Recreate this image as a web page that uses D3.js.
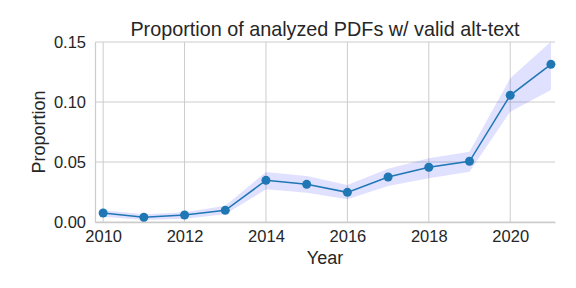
<!DOCTYPE html>
<html>
<head>
<meta charset="utf-8">
<script src="https://cdn.jsdelivr.net/npm/d3@7"></script>
<style>
  body { margin: 0; background: #fff; }
  text { font-family: "Liberation Sans", Arial, sans-serif; fill: #262626; }
</style>
</head>
<body>
<div id="chart"></div>
<script>
var years = [2010, 2011, 2012, 2013, 2014, 2015, 2016, 2017, 2018, 2019, 2020, 2021];
var proportion = [0.0075, 0.0040, 0.0058, 0.0097, 0.0347, 0.0314, 0.0247, 0.0375, 0.0456, 0.0506, 0.1056, 0.1314];
var ciLow = [0.0044, 0.0017, 0.0028, 0.0064, 0.0272, 0.0244, 0.0189, 0.0300, 0.0364, 0.0419, 0.0919, 0.1100];
var ciHigh = [0.0097, 0.0064, 0.0081, 0.0136, 0.0417, 0.0383, 0.0308, 0.0444, 0.0531, 0.0586, 0.1197, 0.1503];
var xTicks = [2010, 2012, 2014, 2016, 2018, 2020];
var yTicks = [0.00, 0.05, 0.10, 0.15];
var title = "Proportion of analyzed PDFs w/ valid alt-text";

var svg_width = 576;
var svg_height = 288;
var margin = {top: 42, right: 21, bottom: 66, left: 95};
var w = svg_width - margin.left - margin.right;
var h = svg_height - margin.top - margin.bottom;

var svg = d3.select("#chart")
    .append("svg")
    .attr("width", svg_width)
    .attr("height", svg_height);

var g = svg.append("g")
    .attr("transform", "translate(" + margin.left + "," + margin.top + ")");

var x = d3.scaleLinear().domain([2009.8, 2021.1]).range([0, w]);
var y = d3.scaleLinear().domain([0, 0.15]).range([h, 0]);

// grid
g.append("g")
    .selectAll("line")
    .data(xTicks)
    .join("line")
    .attr("x1", d => x(d)).attr("x2", d => x(d))
    .attr("y1", 0).attr("y2", h)
    .attr("stroke", "#cccccc").attr("stroke-width", 1);
g.append("g")
    .selectAll("line")
    .data(yTicks)
    .join("line")
    .attr("x1", 0).attr("x2", w)
    .attr("y1", d => y(d)).attr("y2", d => y(d))
    .attr("stroke", "#cccccc").attr("stroke-width", 1);

// axes
var xAxis = g.append("g")
    .attr("transform", "translate(0," + h + ")")
    .call(d3.axisBottom(x).tickValues(xTicks).tickFormat(d3.format("d")).tickSize(0).tickPadding(8));
var yAxis = g.append("g")
    .call(d3.axisLeft(y).tickValues(yTicks).tickFormat(d3.format(".2f")).tickSize(0).tickPadding(9));
[xAxis, yAxis].forEach(function(a) {
  a.select(".domain").attr("stroke", "#cccccc").attr("stroke-width", 1.25);
  a.selectAll("text").style("font-size", "16.5px").attr("fill", "#262626")
    .style("font-family", "'Liberation Sans', Arial, sans-serif");
});
xAxis.selectAll("text").attr("dy", "0.71em");

// band + line
var clip = g.append("clipPath").attr("id", "clip")
    .append("rect").attr("width", w).attr("height", h);

var rows = years.map((yr, i) => ({yr: yr, v: proportion[i], lo: ciLow[i], hi: ciHigh[i]}));

g.append("path")
    .datum(rows)
    .attr("clip-path", "url(#clip)")
    .attr("fill", "rgba(0,0,255,0.12)")
    .attr("d", d3.area().x(d => x(d.yr)).y0(d => y(d.lo)).y1(d => y(d.hi)));

g.append("path")
    .datum(rows)
    .attr("fill", "none")
    .attr("stroke", "#1f77b4")
    .attr("stroke-width", 1.5)
    .attr("d", d3.line().x(d => x(d.yr)).y(d => y(d.v)));

g.selectAll("circle.pt")
    .data(rows)
    .join("circle")
    .attr("class", "pt")
    .attr("cx", d => x(d.yr))
    .attr("cy", d => y(d.v))
    .attr("r", 4.5)
    .attr("fill", "#1f77b4");

// labels
svg.append("text")
    .attr("x", margin.left + w / 2)
    .attr("y", 36)
    .attr("text-anchor", "middle")
    .style("font-size", "19.8px")
    .text(title);

svg.append("text")
    .attr("x", margin.left + w / 2)
    .attr("y", 264)
    .attr("text-anchor", "middle")
    .style("font-size", "18px")
    .text("Year");

svg.append("text")
    .attr("transform", "translate(45," + (margin.top + h / 2) + ") rotate(-90)")
    .attr("text-anchor", "middle")
    .style("font-size", "18px")
    .text("Proportion");
</script>
</body>
</html>
